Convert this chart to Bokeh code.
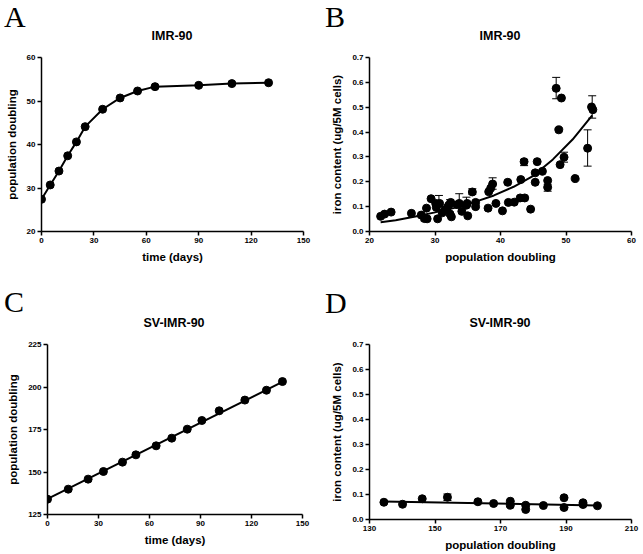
from bokeh.plotting import figure
from bokeh.layouts import column, row
from bokeh.models import (Range1d, FixedTicker, Whisker, ColumnDataSource,
                          TeeHead, PrintfTickFormatter, Div)
from bokeh.embed import file_html
from bokeh.resources import INLINE

# ---------------- data ----------------
# Panel A: IMR-90 growth
a_time = [0, 5, 10, 15, 20, 25, 35, 45, 55, 65, 90, 109, 130]
a_pd = [27.4, 30.7, 33.9, 37.4, 40.6, 44.1, 48.1, 50.7, 52.3, 53.3, 53.6, 54.0, 54.2]

# Panel B: IMR-90 iron content vs population doubling
b_pd = [21.7, 22.3, 23.3, 26.4, 27.9, 28.4, 28.7, 28.8, 29.4, 30.1, 30.2, 30.4,
        30.7, 31.1, 31.5, 31.9, 32.1, 32.4, 32.3, 32.5, 33.4, 33.7, 34.1, 34.8,
        35.0, 34.9, 35.7, 36.2, 36.2, 38.1, 38.2, 38.5, 38.8, 39.3, 40.3, 41.1,
        41.2, 42.1, 43.0, 43.1, 43.6, 43.7, 44.6, 45.3, 45.3, 45.6, 46.4, 47.2,
        47.2, 48.5, 48.9, 49.1, 49.3, 49.7, 51.4, 53.3, 53.9, 54.1]
b_fe = [0.061, 0.070, 0.078, 0.073, 0.066, 0.052, 0.094, 0.051, 0.132, 0.113, 0.097, 0.051,
        0.113, 0.075, 0.086, 0.097, 0.106, 0.117, 0.070, 0.059, 0.108, 0.113, 0.081, 0.106,
        0.063, 0.113, 0.159, 0.100, 0.117, 0.094, 0.160, 0.174, 0.191, 0.113, 0.083, 0.198,
        0.117, 0.118, 0.135, 0.209, 0.281, 0.135, 0.090, 0.236, 0.198, 0.281, 0.242, 0.205,
        0.178, 0.576, 0.409, 0.269, 0.537, 0.299, 0.213, 0.335, 0.501, 0.490]
# error bars (panel B)
be_x = [28.4, 30.6, 32.3, 33.7, 34.8, 35.7, 38.8, 43.6, 47.2, 48.5, 49.7, 53.3, 54.0]
be_lo = [0.043, 0.100, 0.100, 0.100, 0.100, 0.150, 0.170, 0.265, 0.162, 0.534, 0.279, 0.263, 0.456]
be_hi = [0.060, 0.145, 0.128, 0.152, 0.138, 0.172, 0.216, 0.290, 0.190, 0.620, 0.319, 0.409, 0.546]
# fitted curve (panel B)
bf_x = [21.7, 24, 27, 30, 33, 36, 39, 42, 45, 48, 51, 54]
bf_y = [0.037, 0.045, 0.060, 0.077, 0.095, 0.118, 0.145, 0.180, 0.224, 0.290, 0.370, 0.467]

# Panel C: SV-IMR-90 growth
c_time = [0, 12.2, 23.9, 32.9, 44.1, 52, 63.9, 73.1, 82.2, 90.8, 101, 116.1, 128.8, 138.2]
c_pd = [134.0, 139.9, 145.8, 150.3, 155.8, 160.1, 165.4, 169.9, 175.2, 180.3, 186.0,
        192.3, 198.1, 203.2]
c_fit_x = [0, 138.2]
c_fit_y = [134.2, 203.0]

# Panel D: SV-IMR-90 iron content
d_pd = [134.4, 140.1, 146.1, 153.8, 163.1, 167.9, 173.0, 173.0, 177.7, 177.7,
        183.1, 189.4, 189.4, 195.2, 195.2, 199.6]
d_fe = [0.069, 0.061, 0.083, 0.089, 0.071, 0.064, 0.073, 0.057, 0.057, 0.040,
        0.056, 0.087, 0.048, 0.067, 0.060, 0.055]
de_x = [153.8]
de_lo = [0.076]
de_hi = [0.102]
d_fit_x = [134.4, 199.6]
d_fit_y = [0.072, 0.056]

FONT = "Liberation Sans"
SERIF = "Liberation Serif"


def make_fig(fw, fh, bl, br, bt, bb, xr, yr, xticks, yticks, xlabel, ylabel, yfmt=None):
    p = figure(frame_width=fw, frame_height=fh,
               min_border_left=bl, min_border_right=br,
               min_border_top=bt, min_border_bottom=bb,
               x_range=Range1d(*xr), y_range=Range1d(*yr),
               output_backend="svg", toolbar_location=None)
    p.grid.visible = False
    p.outline_line_color = None
    p.background_fill_color = "white"
    p.border_fill_color = "white"
    for ax in (p.xaxis[0], p.yaxis[0]):
        ax.axis_line_color = "black"
        ax.axis_line_width = 1.5
        ax.major_tick_line_color = "black"
        ax.major_tick_line_width = 1.5
        ax.major_tick_out = 4
        ax.major_tick_in = 0
        ax.minor_tick_line_color = None
        ax.major_label_text_font = FONT
        ax.major_label_text_font_style = "bold"
        ax.major_label_text_font_size = "8px"
        ax.major_label_text_color = "black"
        ax.major_label_standoff = 2
        ax.axis_label_text_font = FONT
        ax.axis_label_text_font_style = "bold"
        ax.axis_label_text_font_size = "11.5px"
        ax.axis_label_text_color = "black"
    p.xaxis[0].axis_label_standoff = 5
    p.yaxis[0].axis_label_standoff = 6
    p.xaxis[0].ticker = FixedTicker(ticks=xticks)
    p.yaxis[0].ticker = FixedTicker(ticks=yticks)
    p.xaxis[0].axis_label = xlabel
    p.yaxis[0].axis_label = ylabel
    if yfmt:
        p.yaxis[0].formatter = PrintfTickFormatter(format=yfmt)
    return p


def header(letter, lx, ly, title, tcenter, ty, width, height):
    html = (
        f'<div style="position:relative;width:{width}px;height:{height}px;">'
        f'<span style="position:absolute;left:{lx}px;top:{ly}px;'
        f"font-family:'{SERIF}';font-size:30px;line-height:34px;color:black;\">{letter}</span>"
        f'<span style="position:absolute;left:{tcenter - 100}px;top:{ty}px;width:200px;'
        f"text-align:center;font-family:'{FONT}';font-weight:bold;font-size:12.5px;"
        f'line-height:14px;color:black;">{title}</span></div>'
    )
    return Div(text=html, width=width, height=height, margin=(0, 0, 0, 0))


# ---------------- Panel A ----------------
pA = make_fig(262, 174, 41, 17, 10, 39, (0, 150), (20, 60),
              [0, 30, 60, 90, 120, 150], [20, 30, 40, 50, 60],
              "time (days)", "population doubling")
pA.line(a_time, a_pd, line_color="black", line_width=2)
pA.scatter(a_time, a_pd, size=8, color="black")

# ---------------- Panel B ----------------
pB = make_fig(262, 174, 49, 12, 10, 39, (20, 60), (0, 0.7),
              [20, 30, 40, 50, 60], [0, 0.1, 0.2, 0.3, 0.4, 0.5, 0.6, 0.7],
              "population doubling", "iron content (ug/5M cells)", "%.1f")
srcB = ColumnDataSource(dict(x=be_x, lo=be_lo, hi=be_hi))
pB.add_layout(Whisker(source=srcB, base="x", lower="lo", upper="hi",
                      line_color="black", line_width=1,
                      upper_head=TeeHead(size=8, line_color="black", line_width=1),
                      lower_head=TeeHead(size=8, line_color="black", line_width=1)))
pB.line(bf_x, bf_y, line_color="black", line_width=2)
pB.scatter(b_pd, b_fe, size=8, color="black")

# ---------------- Panel C ----------------
pC = make_fig(255, 170, 47, 18, 10, 40, (0, 150), (125, 225),
              [0, 30, 60, 90, 120, 150], [125, 150, 175, 200, 225],
              "time (days)", "population doubling")
pC.line(c_fit_x, c_fit_y, line_color="black", line_width=2)
pC.scatter(c_time, c_pd, size=8, color="black")

# ---------------- Panel D ----------------
pD = make_fig(262, 175, 49, 12, 8, 37, (130, 210), (0, 0.7),
              [130, 150, 170, 190, 210], [0, 0.1, 0.2, 0.3, 0.4, 0.5, 0.6, 0.7],
              "population doubling", "iron content (ug/5M cells)", "%.1f")
srcD = ColumnDataSource(dict(x=de_x, lo=de_lo, hi=de_hi))
pD.add_layout(Whisker(source=srcD, base="x", lower="lo", upper="hi",
                      line_color="black", line_width=1,
                      upper_head=TeeHead(size=8, line_color="black", line_width=1),
                      lower_head=TeeHead(size=8, line_color="black", line_width=1)))
pD.line(d_fit_x, d_fit_y, line_color="black", line_width=2)
pD.scatter(d_pd, d_fe, size=8, color="black")

hA = header("A", 4, 0, "IMR-90", 172, 29, 320, 47)
hB = header("B", 5, 0, "IMR-90", 180, 29, 323, 47)
hC = header("C", 4, 15, "SV-IMR-90", 174, 46, 320, 64)
hD = header("D", 5, 16, "SV-IMR-90", 180, 46, 323, 64)

layout = column(row(hA, hB), row(pA, pB), row(hC, hD), row(pC, pD))
open("out.html", "w").write(file_html(layout, INLINE))
